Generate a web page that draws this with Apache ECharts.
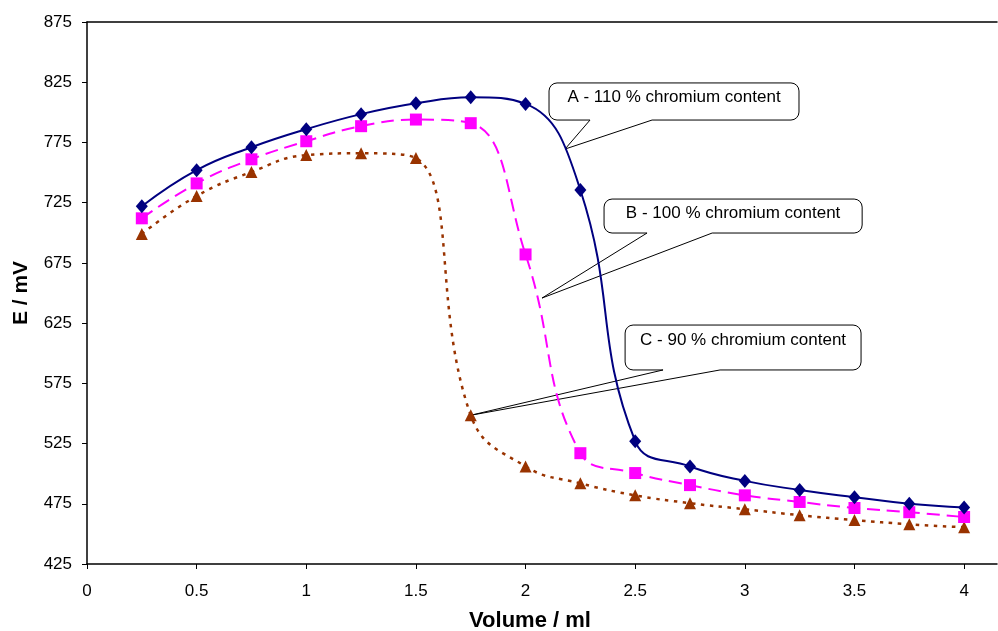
<!DOCTYPE html>
<html>
<head>
<meta charset="utf-8">
<script src="https://cdn.jsdelivr.net/npm/echarts@6/dist/echarts.min.js"></script>
<style>
html,body{margin:0;padding:0;background:#fff;}
#chart{width:998px;height:631px;}
</style>
</head>
<body>
<div id="chart"></div>
<script>
// ---- data ----
const volume = [0.25, 0.5, 0.75, 1, 1.25, 1.5, 1.75, 2, 2.25, 2.5, 2.75, 3, 3.25, 3.5, 3.75, 4];
const seriesA = [722, 752, 771, 786, 798.5, 807.5, 812.5, 807, 735.5, 527, 506, 494, 486.5, 480.5, 475, 472];
const seriesB = [712, 741, 761, 776, 788.5, 794, 791, 682, 517, 500.5, 490.5, 482, 476.5, 471.5, 468, 464];
const seriesC = [699, 730.5, 750.5, 764.5, 766, 762, 548.5, 506, 492, 482, 475.5, 470.5, 465.5, 461.5, 458, 455.5];
const xTicks = [0, 0.5, 1, 1.5, 2, 2.5, 3, 3.5, 4];
const yTicks = [425, 475, 525, 575, 625, 675, 725, 775, 825, 875];
const seriesNames = ['A - 110 % chromium content', 'B - 100 % chromium content', 'C - 90 % chromium content'];

const FONT = '"Liberation Sans", Arial, sans-serif';
const chart = echarts.init(document.getElementById('chart'), null, {renderer: 'canvas'});

function pairs(ys) { return volume.map((v, i) => [v, ys[i]]); }

const xMax = 4.15;
chart.setOption({
  animation: false,
  backgroundColor: '#fff',
  grid: {left: 87, right: 1, top: 22, bottom: 67, containLabel: false, outerBoundsMode: 'none'},
  xAxis: [{
    type: 'value', min: 0, max: xMax,
    name: 'Volume / ml', nameLocation: 'middle', nameGap: 46,
    nameTextStyle: {fontFamily: FONT, fontSize: 22, fontWeight: 'bold', color: '#000', padding: [0, 24, 0, 0]},
    axisLine: {show: true, onZero: false, lineStyle: {color: '#000', width: 1.5}},
    axisTick: {show: true, length: 5, customValues: xTicks, lineStyle: {color: '#000'}},
    axisLabel: {customValues: xTicks, margin: 19, fontFamily: FONT, fontSize: 17, color: '#000'},
    splitLine: {show: false}
  }, {
    type: 'value', min: 0, max: xMax, position: 'top',
    axisLine: {show: true, onZero: false, lineStyle: {color: '#000', width: 1.5}},
    axisTick: {show: false}, axisLabel: {show: false}, splitLine: {show: false}
  }],
  yAxis: {
    type: 'value', min: 425, max: 875, interval: 50,
    name: 'E / mV', nameLocation: 'middle', nameGap: 55, nameRotate: 90,
    nameTextStyle: {fontFamily: FONT, fontSize: 21, fontWeight: 'bold', color: '#000'},
    axisLine: {show: true, onZero: false, lineStyle: {color: '#000', width: 1.5}},
    axisTick: {show: true, length: 5, customValues: yTicks, lineStyle: {color: '#000'}},
    axisLabel: {customValues: yTicks, margin: 15, fontFamily: FONT, fontSize: 17, color: '#000'},
    splitLine: {show: false}
  },
  series: [{
    name: seriesNames[0], type: 'line', smooth: 0.45, data: pairs(seriesA),
    symbol: 'diamond', symbolSize: [12, 14],
    itemStyle: {color: '#000080'},
    lineStyle: {color: '#000080', width: 2, type: 'solid'}, z: 5
  }, {
    name: seriesNames[1], type: 'line', smooth: 0.45, data: pairs(seriesB),
    symbol: 'rect', symbolSize: 12,
    itemStyle: {color: '#FF00FF'},
    lineStyle: {color: '#FF00FF', width: 2, type: [13, 7]}, z: 4
  }, {
    name: seriesNames[2], type: 'line', smooth: 0.45, data: pairs(seriesC),
    symbol: 'triangle', symbolSize: [12, 12],
    itemStyle: {color: '#993300'},
    lineStyle: {color: '#993300', width: 2.5, type: [3.5, 5.5]}, z: 3
  }]
});

// ---- callouts (positions in data units) ----
const callouts = [
  {text: seriesNames[0], box: [2.107, 824.4, 3.247, 793.6], base: [2.294, 2.577], tip: [2.18, 769.5], textY: 0.38},
  {text: seriesNames[1], box: [2.358, 728.0, 3.535, 699.8], base: [2.554, 2.851], tip: [2.075, 645.8], textY: 0.42},
  {text: seriesNames[2], box: [2.454, 623.4, 3.530, 586.1], base: [2.627, 2.887], tip: [volume[6], seriesC[6]], textY: 0.33}
];

function px(p) { return chart.convertToPixel({xAxisIndex: 0, yAxisIndex: 0}, p); }

const graphics = [];
callouts.forEach(c => {
  const tl = px([c.box[0], c.box[1]]);
  const br = px([c.box[2], c.box[3]]);
  const b1 = px([c.base[0], c.box[3]])[0];
  const b2 = px([c.base[1], c.box[3]])[0];
  const tip = px(c.tip);
  const x0 = tl[0], y0 = tl[1], x1 = br[0], y1 = br[1];
  const r = 8;
  const pts = [];
  function arc(cx, cy, a0, a1) {
    for (let k = 0; k <= 4; k++) {
      const a = a0 + (a1 - a0) * k / 4;
      pts.push([cx + r * Math.cos(a), cy + r * Math.sin(a)]);
    }
  }
  arc(x0 + r, y0 + r, Math.PI, Math.PI * 1.5);
  arc(x1 - r, y0 + r, Math.PI * 1.5, Math.PI * 2);
  arc(x1 - r, y1 - r, 0, Math.PI * 0.5);
  pts.push([b2, y1]);
  pts.push(tip);
  pts.push([b1, y1]);
  arc(x0 + r, y1 - r, Math.PI * 0.5, Math.PI);
  graphics.push({
    type: 'polygon', z: 1, silent: true,
    shape: {points: pts},
    style: {fill: '#fff', stroke: '#000', lineWidth: 1}
  });
  graphics.push({
    type: 'text', z: 2, silent: true,
    style: {
      text: c.text, x: (x0 + x1) / 2, y: y0 + (y1 - y0) * c.textY,
      font: '17px ' + FONT, fill: '#000',
      align: 'center', verticalAlign: 'middle', textAlign: 'center', textVerticalAlign: 'middle'
    }
  });
});
chart.setOption({graphic: {elements: graphics}});
</script>
</body>
</html>
